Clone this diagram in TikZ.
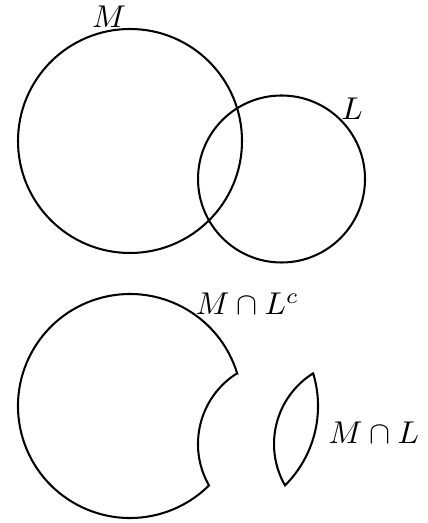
\documentclass[tikz,border=0pt]{standalone}
\begin{document}
\begin{tikzpicture}[x=0.3175pt,y=0.3175pt,
  outline/.style={draw,line width=0.65pt},
  lab/.style={inner sep=0pt}]
\useasboundingbox (0,0) rectangle (428,-523);
% top: the two sets
\draw[outline] (130,-141) circle[radius=112];
\draw[outline] (281.5,-179) circle[radius=83.5];
\node[lab] (m) at (109,-17) {$M$};
\node[lab] (l) at (352,-108.5) {$L$};
% bottom: M minus L
\draw[outline] (237.1,-373.3) arc[start angle=16.98,end angle=314.85,radius=112]
  arc[start angle=209.73,end angle=122.13,radius=83.5] -- cycle;
% bottom: the lens M cap L, moved to the right
\draw[outline] (313.1,-373.3) arc[start angle=122.13,end angle=209.73,radius=83.5]
  arc[start angle=-45.15,end angle=16.98,radius=112] -- cycle;
\node[lab,anchor=base west] (mlc) at (195,-315) {$M\cap L^c$};
\node[lab,anchor=base west] (ml) at (328,-443) {$M\cap L$};
\end{tikzpicture}
\end{document}
